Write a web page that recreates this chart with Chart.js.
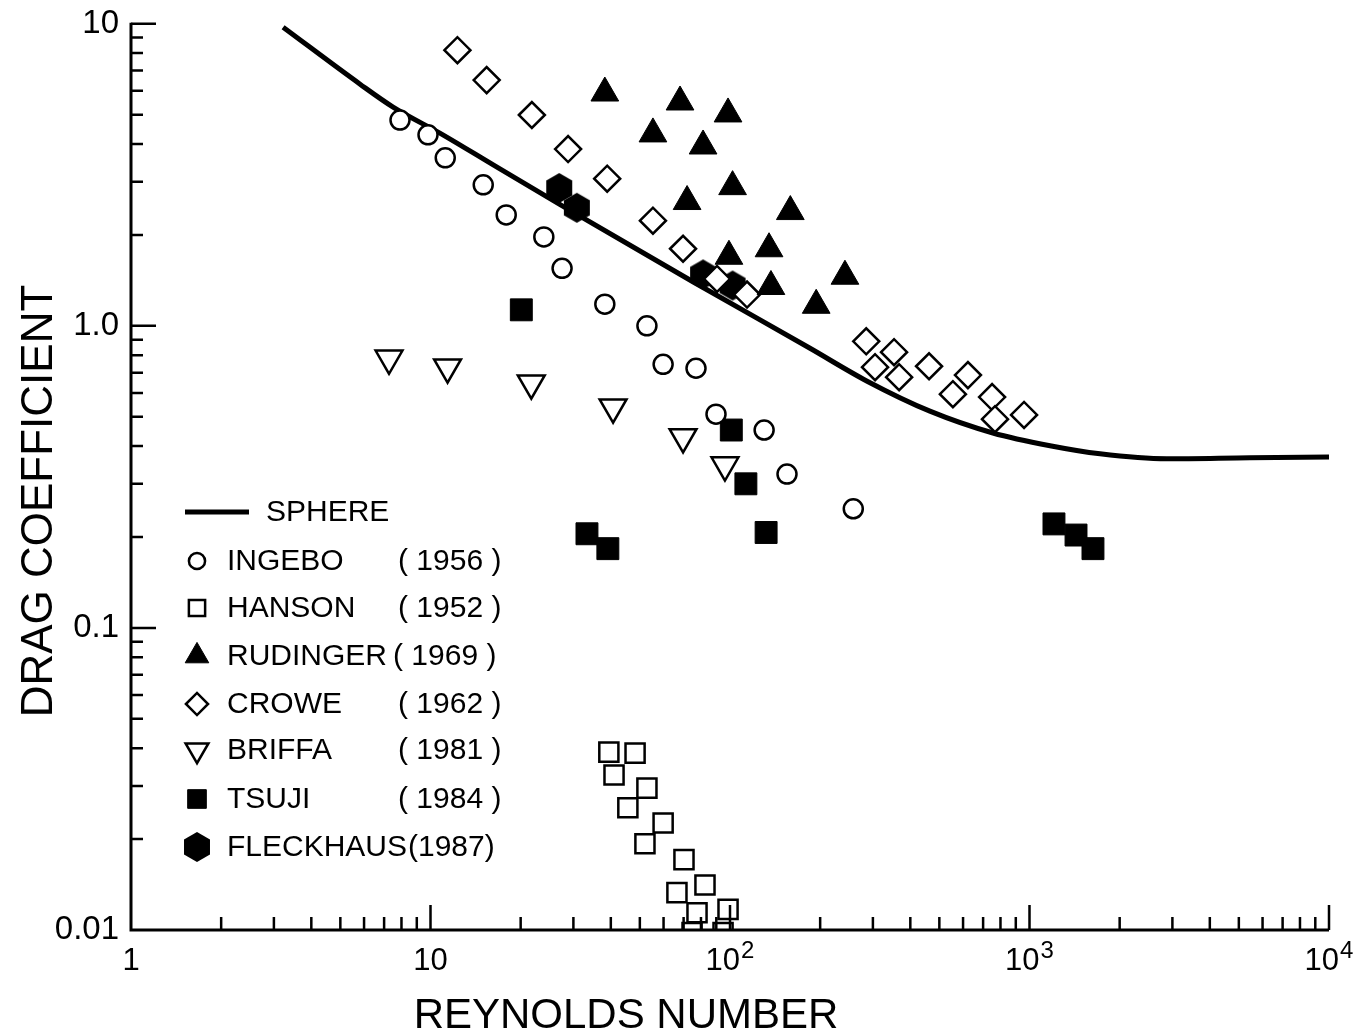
<!DOCTYPE html>
<html>
<head>
<meta charset="utf-8">
<script src="https://cdn.jsdelivr.net/npm/chart.js@4.4.0/dist/chart.umd.min.js"></script>
<style>
  html, body { margin: 0; padding: 0; background: #fff; }
  #wrap { width: 1366px; height: 1036px; position: relative; }
</style>
</head>
<body>
<div id="wrap"><canvas id="myChart"></canvas></div>
<script>
// values (Reynolds number, drag coefficient)
const sphereRe = [3.22, 5.82, 7.5, 11.0, 16.2, 27.1, 75.2, 185, 287, 465, 755, 1171, 1720, 2877, 5446, 10000];
const sphereCd = [9.74, 6.31, 5.30, 4.29, 3.41, 2.52, 1.40, 0.843, 0.656, 0.522, 0.442, 0.401, 0.377, 0.363, 0.366, 0.368];

const ingeboRe = [7.91, 9.81, 11.2, 15.0, 17.9, 23.9, 27.5, 38.2, 52.8, 59.8, 77.0, 89.8, 130, 155, 258];
const ingeboCd = [4.80, 4.29, 3.60, 2.93, 2.33, 1.97, 1.55, 1.18, 1.00, 0.746, 0.724, 0.510, 0.452, 0.323, 0.248];

const hansonRe = [39.4, 48.2, 41.0, 52.8, 45.6, 59.8, 52.0, 70.2, 66.5, 82.5, 77.6, 98.5, 74.7, 94.8];
const hansonCd = [0.0388, 0.0385, 0.0326, 0.0295, 0.0254, 0.0226, 0.0193, 0.0171, 0.0133, 0.0141, 0.0114, 0.0117, 0.0098, 0.0098];

const rudingerRe = [38.2, 68.1, 98.5, 55.3, 81.3, 102, 71.9, 159, 135, 99.2, 137, 242, 194];
const rudingerCd = [5.90, 5.51, 5.03, 4.32, 3.94, 2.89, 2.58, 2.39, 1.80, 1.70, 1.35, 1.46, 1.17];

const croweRe = [12.3, 15.4, 21.8, 28.8, 38.9, 55.3, 69.7, 90.5, 114, 285, 353, 305, 367, 462, 623, 555, 750, 767, 959];
const croweCd = [8.18, 6.51, 4.99, 3.85, 3.07, 2.23, 1.80, 1.43, 1.27, 0.889, 0.818, 0.730, 0.676, 0.735, 0.687, 0.594, 0.581, 0.491, 0.507];

const briffaRe = [7.27, 11.4, 21.7, 40.7, 69.7, 96.2];
const briffaCd = [0.781, 0.730, 0.646, 0.538, 0.429, 0.346];

const tsujiRe = [20.1, 101, 113, 33.3, 39.1, 132, 1207, 1430, 1629];
const tsujiCd = [1.13, 0.452, 0.300, 0.205, 0.183, 0.207, 0.221, 0.203, 0.183];

const fleckhausRe = [26.9, 30.8, 81.3, 102];
const fleckhausCd = [2.86, 2.46, 1.48, 1.36];

const xTicks = [1, 10, 100, 1000, 10000];
const xTickBase = ['1', '10', '10', '10', '10'];
const xTickExp = ['', '', '2', '3', '4'];
const yTicks = [0.01, 0.1, 1, 10];
const yTickLabels = ['0.01', '0.1', '1.0', '10'];

const legendNames = ['SPHERE', 'INGEBO', 'HANSON', 'RUDINGER', 'CROWE', 'BRIFFA', 'TSUJI', 'FLECKHAUS'];
const legendYears = ['', '( 1956 )', '( 1952 )', '( 1969 )', '( 1962 )', '( 1981 )', '( 1984 )', '(1987)'];

const FONT = '"Liberation Sans", Arial, sans-serif';

const pts = (xs, ys) => xs.map((x, i) => ({ x: x, y: ys[i] }));

// hexagon marker, pointy top
function hexagon(r) {
  const c = document.createElement('canvas');
  const s = Math.ceil(r * 2 + 4);
  c.width = s; c.height = s;
  const g = c.getContext('2d');
  g.beginPath();
  for (let i = 0; i < 6; i++) {
    const a = -Math.PI / 2 + i * Math.PI / 3;
    const px = s / 2 + r * Math.cos(a), py = s / 2 + r * Math.sin(a);
    if (i == 0) g.moveTo(px, py); else g.lineTo(px, py);
  }
  g.closePath();
  g.fillStyle = '#000';
  g.fill();
  return c;
}
const hex = hexagon(15);

const open = { backgroundColor: '#fff', borderColor: '#000', borderWidth: 2.5 };
const solid = { backgroundColor: '#000', borderColor: '#000', borderWidth: 1 };

const datasets = [
  { label: 'SPHERE', data: pts(sphereRe, sphereCd), showLine: true, borderColor: '#000', borderWidth: 5,
    pointRadius: 0, cubicInterpolationMode: 'monotone', order: 10 },
  Object.assign({ label: 'INGEBO', data: pts(ingeboRe, ingeboCd), pointStyle: 'circle', pointRadius: 9.5 }, open),
  Object.assign({ label: 'HANSON', data: pts(hansonRe, hansonCd), pointStyle: 'rect', pointRadius: 13.5,
    clip: { left: false, top: false, right: false, bottom: 0 } }, open),
  Object.assign({ label: 'RUDINGER', data: pts(rudingerRe, rudingerCd), pointStyle: 'triangle', pointRadius: 16 }, solid),
  Object.assign({ label: 'CROWE', data: pts(croweRe, croweCd), pointStyle: 'rectRot', pointRadius: 13 }, open),
  Object.assign({ label: 'BRIFFA', data: pts(briffaRe, briffaCd), pointStyle: 'triangle', pointRotation: 180, pointRadius: 15.5 }, open),
  Object.assign({ label: 'TSUJI', data: pts(tsujiRe, tsujiCd), pointStyle: 'rect', pointRadius: 15.5 }, solid),
  Object.assign({ label: 'FLECKHAUS', data: pts(fleckhausRe, fleckhausCd), pointStyle: hex, pointRadius: 15 }, solid)
];
datasets.forEach(d => { if (d.clip === undefined) d.clip = false; });

const paper = {
  id: 'paper',
  beforeDraw(chart) {
    const ctx = chart.ctx;
    ctx.save();
    ctx.fillStyle = '#fff';
    ctx.fillRect(0, 0, chart.width, chart.height);
    ctx.restore();
  },
  afterDatasetsDraw(chart) {
    const ctx = chart.ctx;
    const xs = chart.scales.x, ys = chart.scales.y;
    const L = xs.left, R = xs.right, T = ys.top, B = ys.bottom;
    ctx.save();
    ctx.strokeStyle = '#000';
    ctx.lineWidth = 3;
    ctx.lineCap = 'butt';
    ctx.beginPath();
    ctx.moveTo(L, T - 1); ctx.lineTo(L, B); ctx.lineTo(R, B);
    ctx.stroke();

    // ticks point into the plot
    ctx.lineWidth = 2.5;
    ctx.beginPath();
    xTicks.forEach((d, i) => {
      const px = xs.getPixelForValue(d);
      if (i > 0) { ctx.moveTo(px, B); ctx.lineTo(px, B - 25); }
      if (d < 10000) for (let k = 2; k <= 9; k++) {
        const mx = xs.getPixelForValue(d * k);
        ctx.moveTo(mx, B); ctx.lineTo(mx, B - 13);
      }
    });
    yTicks.forEach((d, i) => {
      const py = ys.getPixelForValue(d);
      if (i > 0) { ctx.moveTo(L, py); ctx.lineTo(L + 25, py); }
      if (d < 10) for (let k = 2; k <= 9; k++) {
        const my = ys.getPixelForValue(d * k);
        ctx.moveTo(L, my); ctx.lineTo(L + 12, my);
      }
    });
    ctx.stroke();

    // x tick labels with raised exponents
    ctx.fillStyle = '#000';
    ctx.textBaseline = 'alphabetic';
    ctx.textAlign = 'left';
    xTicks.forEach((d, i) => {
      const px = xs.getPixelForValue(d);
      ctx.font = '31px ' + FONT;
      const w1 = ctx.measureText(xTickBase[i]).width;
      ctx.font = '24px ' + FONT;
      const w2 = xTickExp[i] ? ctx.measureText(xTickExp[i]).width + 1 : 0;
      const x0 = px - (w1 + w2) / 2;
      ctx.font = '31px ' + FONT;
      ctx.fillText(xTickBase[i], x0, 970);
      if (w2) {
        ctx.font = '24px ' + FONT;
        ctx.fillText(xTickExp[i], x0 + w1 + 1, 958);
      }
    });

    // axis titles
    ctx.font = '42px ' + FONT;
    ctx.textAlign = 'center';
    ctx.fillText('REYNOLDS NUMBER', 626, 1028);
    ctx.save();
    ctx.translate(52, 501);
    ctx.rotate(-Math.PI / 2);
    ctx.font = '44px ' + FONT;
    ctx.fillText('DRAG COEFFICIENT', 0, 0);
    ctx.restore();

    // legend
    const rows = [512, 561, 608, 656, 704, 750, 799, 847];
    ctx.font = '30px ' + FONT;
    ctx.textAlign = 'left';
    ctx.textBaseline = 'middle';
    legendNames.forEach((name, i) => {
      const y = rows[i];
      if (i == 0) {
        ctx.lineWidth = 5;
        ctx.beginPath(); ctx.moveTo(185, y); ctx.lineTo(249, y); ctx.stroke();
        ctx.fillText(name, 266, y + 1);
        return;
      }
      const ds = datasets[i];
      ctx.fillStyle = ds.backgroundColor;
      ctx.strokeStyle = ds.borderColor;
      ctx.lineWidth = ds.borderWidth;
      Chart.helpers.drawPoint(ctx, {
        pointStyle: ds.pointStyle, rotation: ds.pointRotation || 0,
        radius: ds.pointRadius * 0.85, borderWidth: ds.borderWidth
      }, 197, y);
      ctx.fillStyle = '#000';
      ctx.fillText(name, 227, y + 1);
      ctx.fillText(legendYears[i], i == 3 ? 393 : (i == 7 ? 408 : 398), y + 1);
    });
    ctx.restore();
  }
};

const config = {
  type: 'scatter',
  data: { datasets: datasets },
  options: {
    responsive: true,
    maintainAspectRatio: false,
    animation: false,
    events: [],
    layout: { padding: { top: 21, right: 37, left: 0, bottom: 0 } },
    plugins: { legend: { display: false }, tooltip: { enabled: false } },
    scales: {
      x: {
        type: 'logarithmic', min: 1, max: 10000,
        grid: { display: false }, border: { display: false },
        afterBuildTicks: s => { s.ticks = xTicks.map(v => ({ value: v })); },
        afterFit: s => { s.height = 106; },
        ticks: { display: false }
      },
      y: {
        type: 'logarithmic', min: 0.01, max: 10,
        grid: { display: false }, border: { display: false },
        afterBuildTicks: s => { s.ticks = yTicks.map(v => ({ value: v })); },
        afterFit: s => { s.width = 131; },
        ticks: { autoSkip: false, padding: 4, color: '#000',
          font: { family: FONT, size: 33 }, callback: (v, i) => yTickLabels[i] }
      }
    }
  },
  plugins: [paper]
};

const myChart = new Chart(document.getElementById('myChart'), config);
</script>
</body>
</html>
